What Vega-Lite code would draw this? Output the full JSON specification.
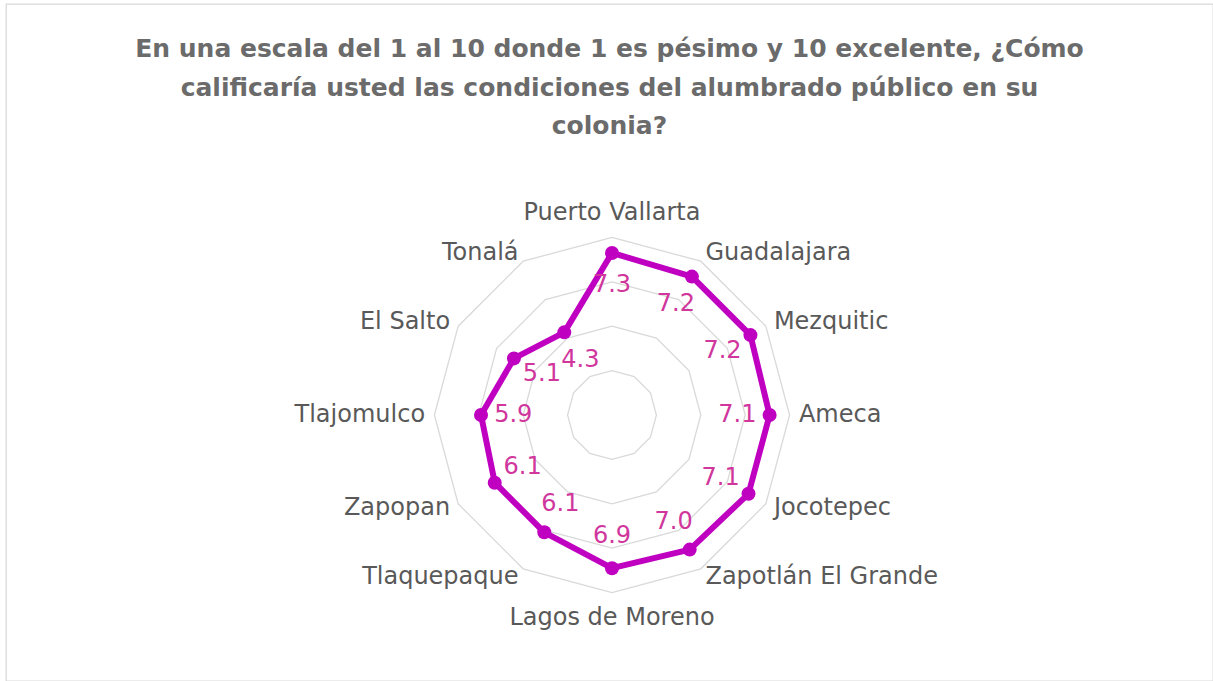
{
  "$schema": "https://vega.github.io/schema/vega-lite/v6.json",
  "autosize": {"type": "none"},
  "padding": {"left": 6, "top": 4, "right": 0, "bottom": 0},
  "width": 1207,
  "height": 677,
  "background": "white",
  "config": {"view": {"stroke": "#d9d9d9", "strokeWidth": 1.3}},
  "title": {
    "text": ["En una escala del 1 al 10 donde 1 es pésimo y 10 excelente, ¿Cómo", "calificaría usted las condiciones del alumbrado público en su", "colonia?"],
    "anchor": "middle",
    "orient": "top",
    "offset": 0,
    "baseline": "top",
    "dy": 135,
    "font": "DejaVu Sans",
    "fontSize": 25,
    "fontWeight": "bold",
    "color": "#6b6b6b",
    "lineHeight": 38.5
  },
  "datasets": {
    "scores": [
      {"municipio": "Puerto Vallarta", "i": 0, "calificacion": 7.3},
      {"municipio": "Guadalajara", "i": 1, "calificacion": 7.2},
      {"municipio": "Mezquitic", "i": 2, "calificacion": 7.2},
      {"municipio": "Ameca", "i": 3, "calificacion": 7.1},
      {"municipio": "Jocotepec", "i": 4, "calificacion": 7.1},
      {"municipio": "Zapotlán El Grande", "i": 5, "calificacion": 7.0},
      {"municipio": "Lagos de Moreno", "i": 6, "calificacion": 6.9},
      {"municipio": "Tlaquepaque", "i": 7, "calificacion": 6.1},
      {"municipio": "Zapopan", "i": 8, "calificacion": 6.1},
      {"municipio": "Tlajomulco", "i": 9, "calificacion": 5.9},
      {"municipio": "El Salto", "i": 10, "calificacion": 5.1},
      {"municipio": "Tonalá", "i": 11, "calificacion": 4.3}
    ],
    "grid": [
      {"i": 0, "levels": [2, 4, 6, 8]},
      {"i": 1, "levels": [2, 4, 6, 8]},
      {"i": 2, "levels": [2, 4, 6, 8]},
      {"i": 3, "levels": [2, 4, 6, 8]},
      {"i": 4, "levels": [2, 4, 6, 8]},
      {"i": 5, "levels": [2, 4, 6, 8]},
      {"i": 6, "levels": [2, 4, 6, 8]},
      {"i": 7, "levels": [2, 4, 6, 8]},
      {"i": 8, "levels": [2, 4, 6, 8]},
      {"i": 9, "levels": [2, 4, 6, 8]},
      {"i": 10, "levels": [2, 4, 6, 8]},
      {"i": 11, "levels": [2, 4, 6, 8]}
    ]
  },
  "layer": [
    {
      "data": {"name": "grid"},
      "transform": [
        {"flatten": ["levels"], "as": ["level"]},
        {"calculate": "datum.level * sin(datum.i * PI / 6)", "as": "x"},
        {"calculate": "datum.level * cos(datum.i * PI / 6)", "as": "y"}
      ],
      "mark": {"type": "line", "interpolate": "linear-closed", "stroke": "#d9d9d9", "strokeWidth": 1.3},
      "encoding": {
        "x": {"field": "x", "type": "quantitative", "scale": {"domain": [-27.297, 27.072], "nice": false, "zero": false}, "axis": null},
        "y": {"field": "y", "type": "quantitative", "scale": {"domain": [-11.982, 18.514], "nice": false, "zero": false}, "axis": null},
        "detail": {"field": "level", "type": "nominal"},
        "order": {"field": "i", "type": "quantitative"}
      }
    },
    {
      "data": {"name": "scores"},
      "transform": [
        {"calculate": "datum.calificacion * sin(datum.i * PI / 6)", "as": "x"},
        {"calculate": "datum.calificacion * cos(datum.i * PI / 6)", "as": "y"}
      ],
      "layer": [
        {
          "mark": {"type": "line", "interpolate": "linear-closed", "stroke": "#c000c0", "strokeWidth": 6, "strokeJoin": "round"},
          "encoding": {
            "x": {"field": "x", "type": "quantitative"},
            "y": {"field": "y", "type": "quantitative"},
            "order": {"field": "i", "type": "quantitative"}
          }
        },
        {
          "mark": {"type": "circle", "size": 196, "color": "#c000c0", "opacity": 1},
          "encoding": {
            "x": {"field": "x", "type": "quantitative"},
            "y": {"field": "y", "type": "quantitative"}
          }
        }
      ]
    },
    {
      "data": {"name": "scores"},
      "transform": [
        {"calculate": "(datum.calificacion - 1.45) * sin(datum.i * PI / 6)", "as": "x"},
        {"calculate": "(datum.calificacion - 1.45) * cos(datum.i * PI / 6)", "as": "y"}
      ],
      "mark": {"type": "text", "font": "DejaVu Sans", "fontSize": 24, "color": "#d0369c", "align": "center", "baseline": "middle"},
      "encoding": {
        "x": {"field": "x", "type": "quantitative"},
        "y": {"field": "y", "type": "quantitative"},
        "text": {"field": "calificacion", "type": "quantitative", "format": ".1f"}
      }
    },
    {
      "data": {"name": "scores"},
      "transform": [
        {"calculate": "8.42 * sin(datum.i * PI / 6)", "as": "x"},
        {"calculate": "8.42 * cos(datum.i * PI / 6)", "as": "y"}
      ],
      "layer": [
        {
          "transform": [{"filter": "datum.i == 0"}],
          "mark": {"type": "text", "font": "DejaVu Sans", "fontSize": 24, "color": "#595959", "align": "center", "baseline": "bottom", "dy": -3},
          "encoding": {"x": {"field": "x", "type": "quantitative"}, "y": {"field": "y", "type": "quantitative"}, "text": {"field": "municipio"}}
        },
        {
          "transform": [{"filter": "datum.i >= 1 && datum.i <= 5"}],
          "mark": {"type": "text", "font": "DejaVu Sans", "fontSize": 24, "color": "#595959", "align": "left", "baseline": "middle"},
          "encoding": {"x": {"field": "x", "type": "quantitative"}, "y": {"field": "y", "type": "quantitative"}, "text": {"field": "municipio"}}
        },
        {
          "transform": [{"filter": "datum.i == 6"}],
          "mark": {"type": "text", "font": "DejaVu Sans", "fontSize": 24, "color": "#595959", "align": "center", "baseline": "top", "dy": 4},
          "encoding": {"x": {"field": "x", "type": "quantitative"}, "y": {"field": "y", "type": "quantitative"}, "text": {"field": "municipio"}}
        },
        {
          "transform": [{"filter": "datum.i >= 7"}],
          "mark": {"type": "text", "font": "DejaVu Sans", "fontSize": 24, "color": "#595959", "align": "right", "baseline": "middle"},
          "encoding": {"x": {"field": "x", "type": "quantitative"}, "y": {"field": "y", "type": "quantitative"}, "text": {"field": "municipio"}}
        }
      ]
    }
  ]
}
